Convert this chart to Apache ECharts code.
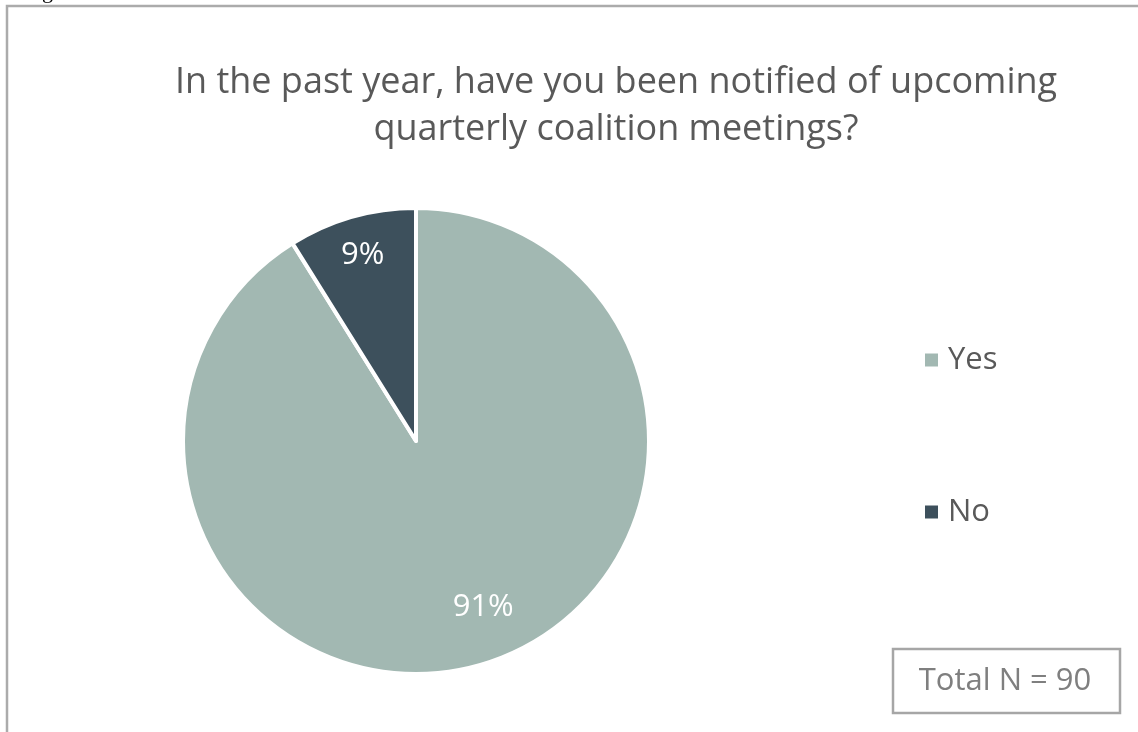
<!DOCTYPE html>
<html>
<head>
<meta charset="utf-8">
<script src="https://cdn.jsdelivr.net/npm/echarts@6/dist/echarts.min.js"></script>
<style>
  html, body { margin: 0; padding: 0; background: #fff; }
  #chart { width: 1138px; height: 732px; }
</style>
</head>
<body>
<div id="chart"></div>
<script>
// Survey responses
const categories = ['Yes', 'No'];
const counts = [82, 8];
const percentLabels = ['91%', '9%'];
const totalN = 90;
const titleLines = ['In the past year, have you been notified of upcoming', 'quarterly coalition meetings?'];

const colors = ['#A2B8B2', '#3D505C'];
const FONT = '"Open Sans", "Noto Sans", sans-serif';

const center = [416, 441];
const radius = 233;
// label placement per slice: fraction of radius, and angular shift (deg) from slice middle
const labelRadiusFrac = [0.77, 0.83];
const labelAngleShift = [-6, 0];

const chart = echarts.init(document.getElementById('chart'), null, { renderer: 'canvas' });

const total = counts.reduce((a, b) => a + b, 0);
function labelPos(i) {
  let start = 0;
  for (let k = 0; k < i; k++) start += counts[k];
  const midFrac = (start + counts[i] / 2) / total;
  const ang = (midFrac * 360 + labelAngleShift[i]) * Math.PI / 180; // clockwise from top
  const r = radius * labelRadiusFrac[i];
  return [center[0] + r * Math.sin(ang), center[1] - r * Math.cos(ang)];
}

chart.setOption({
  animation: false,
  backgroundColor: '#ffffff',
  title: {
    text: titleLines.join('\n'),
    left: 611,
    top: 54,
    textAlign: 'center',
    textStyle: {
      fontFamily: FONT,
      fontSize: 36,
      fontWeight: 'normal',
      color: '#595959',
      lineHeight: 47
    }
  },
  legend: {
    orient: 'vertical',
    left: 918,
    top: 339,
    itemGap: 120,
    itemWidth: 15,
    itemHeight: 15,
    icon: 'rect',
    data: categories,
    textStyle: { fontFamily: FONT, fontSize: 31, color: '#595959', lineHeight: 32, padding: [0, 0, 0, 4] }
  },
  series: [{
    type: 'pie',
    center: center,
    radius: [0, radius],
    startAngle: 90,
    clockwise: true,
    silent: true,
    data: categories.map((c, i) => ({
      name: c,
      value: counts[i],
      itemStyle: { color: colors[i] },
      label: { formatter: percentLabels[i] }
    })),
    itemStyle: { borderColor: '#ffffff', borderWidth: 4 },
    label: {
      show: true,
      position: 'inside',
      color: '#ffffff',
      fontFamily: FONT,
      fontSize: 31
    },
    labelLine: { show: false },
    labelLayout: function (params) {
      const p = labelPos(params.dataIndex);
      return { x: p[0], y: p[1], align: 'center', verticalAlign: 'middle' };
    }
  }],
  graphic: [
    {
      type: 'rect',
      shape: { x: 7, y: 6, width: 1160, height: 760 },
      style: { fill: 'none', stroke: '#ABABAB', lineWidth: 2.5 },
      silent: true
    },
    {
      type: 'text',
      left: 42,
      top: -19,
      style: { text: 'g', font: '22px "Liberation Serif", serif', fill: '#000' },
      silent: true
    },
    {
      type: 'rect',
      shape: { x: 893, y: 649, width: 227, height: 64 },
      style: { fill: '#ffffff', stroke: '#A6A6A6', lineWidth: 2.5 },
      silent: true
    },
    {
      type: 'text',
      x: 1005,
      y: 681,
      style: {
        text: 'Total N = ' + totalN,
        font: '31px ' + FONT,
        fill: '#7F7F7F',
        align: 'center',
        verticalAlign: 'middle'
      },
      silent: true
    }
  ]
});
</script>
</body>
</html>
